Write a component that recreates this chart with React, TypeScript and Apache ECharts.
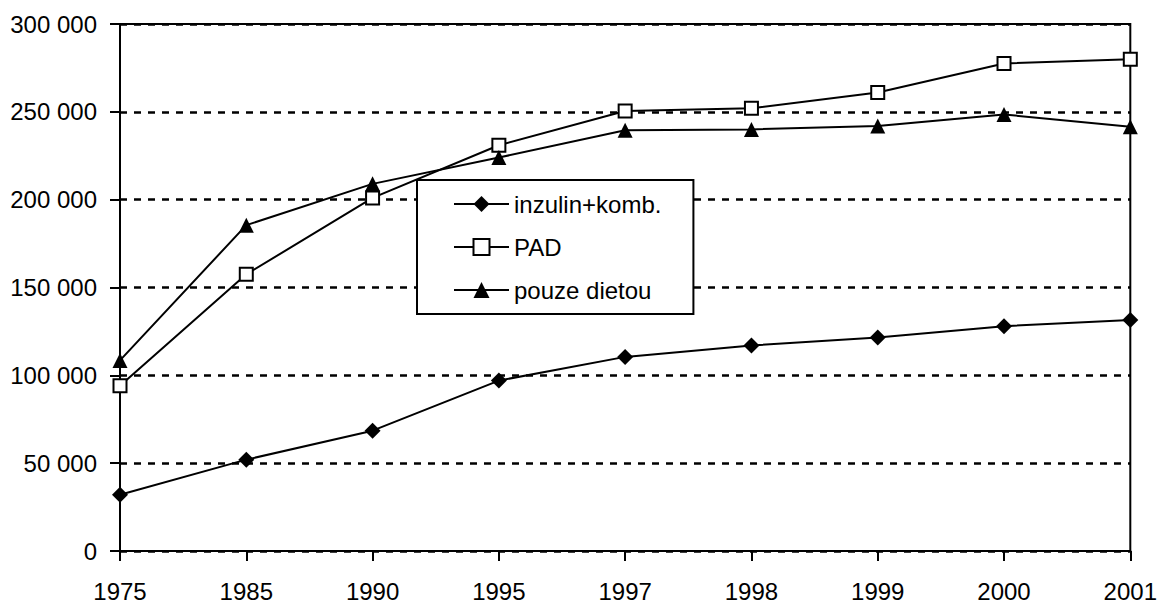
import React, { useEffect, useRef } from "react";
import * as echarts from "echarts";

const years = ["1975", "1985", "1990", "1995", "1997", "1998", "1999", "2000", "2001"];
const inzulin = [32000, 52000, 68500, 97000, 110500, 117000, 121500, 128000, 131500];
const pad = [94000, 157500, 201000, 231000, 250500, 252000, 261000, 277500, 280000];
const dieta = [108500, 185500, 209000, 224000, 239500, 240000, 242000, 248500, 241500];
const seriesNames = ["inzulin+komb.", "PAD", "pouze dietou"];

const FONT = "'Liberation Sans', Arial, sans-serif";

function fmt(v: number): string {
  if (v === 0) return "0";
  const s = String(v);
  return s.replace(/\B(?=(\d{3})+(?!\d))/g, " ");
}

export default function App() {
  const ref = useRef<HTMLDivElement>(null);
  useEffect(() => {
    if (!ref.current) return;
    const chart = echarts.init(ref.current, null, { renderer: "svg" });
    chart.setOption({
      animation: false,
      backgroundColor: "#fff",
      textStyle: { fontFamily: FONT, color: "#000" },
      grid: {
        left: 120,
        right: 28,
        top: 24,
        bottom: 56,
        show: true,
        borderColor: "#000",
        borderWidth: 2,
      },
      legend: {
        orient: "vertical",
        left: 417,
        top: 180,
        data: seriesNames,
        itemWidth: 55,
        itemHeight: 20,
        itemGap: 19,
        padding: [12, 32, 12, 36],
        borderColor: "#000",
        borderWidth: 2,
        backgroundColor: "#fff",
        lineStyle: { width: 2 },
        textStyle: { fontFamily: FONT, fontSize: 24, color: "#000" },
      },
      xAxis: {
        type: "category",
        data: years,
        boundaryGap: false,
        axisLine: { show: true, lineStyle: { color: "#000", width: 2 } },
        axisTick: { show: true, length: 10, lineStyle: { color: "#000", width: 2 } },
        axisLabel: { fontFamily: FONT, fontSize: 24, color: "#000", margin: 28 },
        splitLine: { show: false },
      },
      yAxis: {
        type: "value",
        min: 0,
        max: 300000,
        interval: 50000,
        axisLine: { show: true, lineStyle: { color: "#000", width: 2 } },
        axisTick: { show: true, length: 10, lineStyle: { color: "#000", width: 2 } },
        axisLabel: {
          fontFamily: FONT,
          fontSize: 24,
          color: "#000",
          margin: 23,
          formatter: (v: number) => fmt(v),
        },
        splitLine: { show: true, lineStyle: { color: "#000", width: 2.5, type: [7, 7] } },
      },
      series: [
        {
          name: seriesNames[0],
          type: "line",
          data: inzulin,
          symbol: "diamond",
          symbolSize: 16,
          lineStyle: { color: "#000", width: 2 },
          itemStyle: { color: "#000", borderColor: "#000", borderWidth: 0 },
          z: 3,
        },
        {
          name: seriesNames[1],
          type: "line",
          data: pad,
          symbol: "rect",
          symbolSize: 13,
          lineStyle: { color: "#000", width: 2 },
          itemStyle: { color: "#fff", borderColor: "#000", borderWidth: 2 },
          z: 3,
        },
        {
          name: seriesNames[2],
          type: "line",
          data: dieta,
          symbol: "triangle",
          symbolSize: 15,
          lineStyle: { color: "#000", width: 2 },
          itemStyle: { color: "#000", borderColor: "#000", borderWidth: 0 },
          z: 3,
        },
      ],
    });
    return () => chart.dispose();
  }, []);
  return <div ref={ref} style={{ width: 1160, height: 607, position: "absolute", left: 0, top: 0 }} />;
}
